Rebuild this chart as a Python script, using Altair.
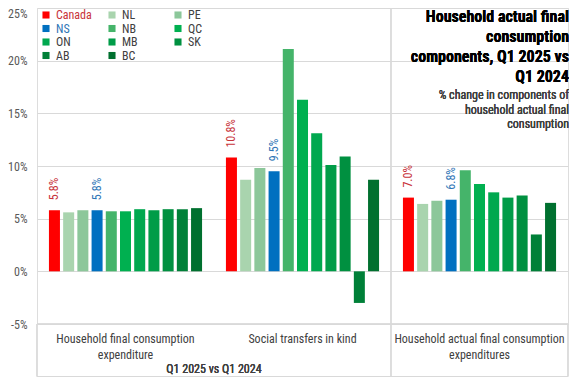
import altair as alt
import pandas as pd

groups = [
    "Household final consumption expenditure",
    "Social transfers in kind",
    "Household actual final consumption expenditures",
]
group_labels = [
    "Household final consumption\nexpenditure",
    "Social transfers in kind",
    "Household actual final consumption\nexpenditures",
]
regions = ["Canada", "NL", "PE", "NS", "NB", "QC", "ON", "MB", "SK", "AB", "BC"]
colors = ["#FF0000", "#A9D4AE", "#8CC79A", "#0070C0", "#45B46A", "#00B050",
          "#00A84F", "#009C48", "#009040", "#008038", "#00702F"]

hfce = [5.8, 5.6, 5.8, 5.8, 5.7, 5.7, 5.9, 5.8, 5.9, 5.9, 6.0]
stk = [10.8, 8.7, 9.8, 9.5, 21.1, 16.3, 13.1, 10.1, 10.9, -3.0, 8.7]
hafce = [7.0, 6.4, 6.7, 6.8, 9.6, 8.3, 7.5, 7.0, 7.2, 3.5, 6.5]
series = [hfce, stk, hafce]

y_ticks = [-5, 0, 5, 10, 15, 20, 25]
title_lines = "Household  actual final\nconsumption\ncomponents, Q1 2025 vs\nQ1 2024"
subtitle_lines = "% change in components of\nhousehold actual final\nconsumption"
period_label = "Q1 2025 vs Q1 2024"
labelled = ["Canada", "NS"]

FONT = "Liberation Sans Narrow, Roboto Condensed, Arial Narrow, Roboto"
GRID = "#D9D9D9"

rows = []
for g, vals in zip(groups, series):
    for r, v in zip(regions, vals):
        rows.append({"group": g, "region": r, "value": v})
df = pd.DataFrame(rows)
cat_df = pd.DataFrame({"group": groups, "label": group_labels})

W, H = 531, 316
BOTTOM = 368.5

xenc = alt.X("group:N", sort=groups, axis=None,
             scale=alt.Scale(domain=groups, paddingInner=0, paddingOuter=0))
xoff = alt.XOffset("region:N", sort=regions,
                   scale=alt.Scale(domain=regions, paddingInner=0.225, paddingOuter=0.84))
yenc = alt.Y("value:Q",
             scale=alt.Scale(domain=[-5, 25], nice=False, zero=False),
             axis=alt.Axis(values=y_ticks, labelExpr="datum.value + '%'", title=None,
                           domain=False, ticks=False, labelPadding=10,
                           labelBaseline={"condition": {"test": "datum.value == 25", "value": "top"},
                                          "value": "middle"},
                           gridColor=GRID, gridWidth=1, labelColor="#595959",
                           labelFont=FONT, labelFontSize=12))

bars = alt.Chart(df).mark_bar().encode(
    x=xenc, xOffset=xoff, y=yenc,
    color=alt.Color("region:N", sort=regions,
                    scale=alt.Scale(domain=regions, range=colors),
                    legend=alt.Legend(
                        orient="none", legendX=3, legendY=1, columns=3, direction="horizontal",
                        title=None,
                        symbolType="square", symbolSize=50, symbolStrokeWidth=0,
                        labelFont=FONT, labelFontSize=12, labelOffset=4,
                        gridAlign="all", columnPadding=14, rowPadding=1.5,
                        labelColor=alt.ExprRef(
                            "datum.label == 'Canada' ? '#C8333A' : (datum.label == 'NS' ? '#2E75B6' : '#404040')"),
                    )),
)

labels = alt.Chart(df).transform_filter(
    alt.FieldOneOfPredicate(field="region", oneOf=labelled)
).transform_calculate(
    txt="format(datum.value, '.1f') + '%'"
).mark_text(angle=270, align="left", baseline="middle", dx=10, font=FONT, fontSize=12).encode(
    x=xenc, xOffset=xoff, y=alt.Y("value:Q"),
    text="txt:N",
    color=alt.condition(alt.datum.region == "Canada", alt.value("#C8333A"), alt.value("#2E75B6")),
)

cat_text = alt.Chart(cat_df).mark_text(
    baseline="alphabetic", align="center", lineBreak="\n", lineHeight=16,
    font=FONT, fontSize=12, color="#404040"
).encode(x=xenc, y=alt.value(335), text="label:N")

period = alt.Chart(cat_df).mark_text(
    baseline="alphabetic", align="center", font=FONT, fontSize=12, color="#404040"
).encode(x=alt.value(177), y=alt.value(365), text=alt.value(period_label))

title = alt.Chart(cat_df).mark_text(
    baseline="alphabetic", align="right", lineBreak="\n", lineHeight=20,
    font=FONT, fontSize=16, fontWeight="bold", color="#000000"
).encode(x=alt.value(532), y=alt.value(14), text=alt.value(title_lines))

subtitle = alt.Chart(cat_df).mark_text(
    baseline="alphabetic", align="right", lineBreak="\n", lineHeight=14.5,
    font=FONT, fontSize=12, color="#404040"
).encode(x=alt.value(532), y=alt.value(91), text=alt.value(subtitle_lines))

rule_style = dict(color=GRID, strokeWidth=1)
box_top = alt.Chart(cat_df).mark_rule(**rule_style).encode(
    x=alt.value(0), x2=alt.value(W), y=alt.value(H))
box_bottom = alt.Chart(cat_df).mark_rule(**rule_style).encode(
    x=alt.value(0), x2=alt.value(W), y=alt.value(BOTTOM))
box_left = alt.Chart(cat_df).mark_rule(**rule_style).encode(
    x=alt.value(0), y=alt.value(H), y2=alt.value(BOTTOM))
box_right = alt.Chart(cat_df).mark_rule(**rule_style).encode(
    x=alt.value(W), y=alt.value(H), y2=alt.value(BOTTOM))
divider = alt.Chart(cat_df).mark_rule(**rule_style).encode(
    x=alt.value(354), y=alt.value(0), y2=alt.value(BOTTOM))

chart = alt.layer(
    divider, box_top, box_bottom, box_left, box_right,
    bars, labels, cat_text, period, title, subtitle
).properties(
    width=W, height=H,
    padding={"left": 29, "top": 0, "right": 1, "bottom": 53},
    autosize=alt.AutoSizeParams(type="none"),
).configure_view(stroke=None).configure(background="white")

chart.save("out.html", embed_options={"renderer": "svg", "actions": False})
